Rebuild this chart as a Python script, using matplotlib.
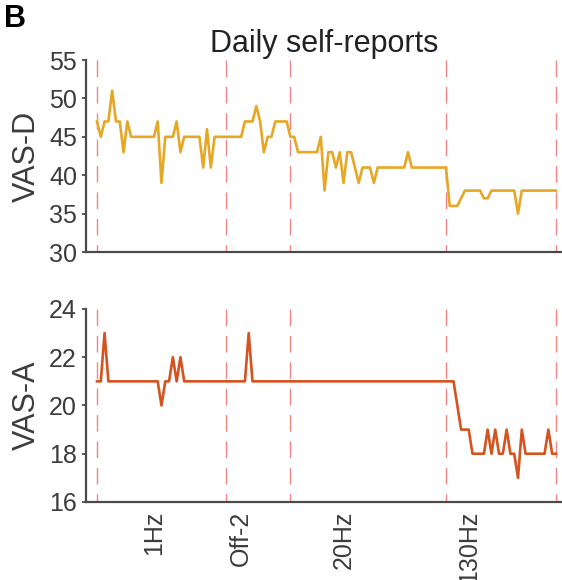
import matplotlib
matplotlib.use("Agg")
import matplotlib.pyplot as plt

plt.rcParams['font.family'] = ['Liberation Sans', 'DejaVu Sans']

# one value per day (day 0 .. 121)
vas_d = [47, 45, 47, 47, 51, 47, 47, 43, 47, 45,
         45, 45, 45, 45, 45, 45, 47, 39, 45, 45,
         45, 47, 43, 45, 45, 45, 45, 45, 41, 46,
         41, 45, 45, 45, 45, 45, 45, 45, 45, 47,
         47, 47, 49, 47, 43, 45, 45, 47, 47, 47,
         47, 45, 45, 43, 43, 43, 43, 43, 43, 45,
         38, 43, 43, 41, 43, 39, 43, 43, 41, 39,
         41, 41, 41, 39, 41, 41, 41, 41, 41, 41,
         41, 41, 43, 41, 41, 41, 41, 41, 41, 41,
         41, 41, 41, 36, 36, 36, 37, 38, 38, 38,
         38, 38, 37, 37, 38, 38, 38, 38, 38, 38,
         38, 35, 38, 38, 38, 38, 38, 38, 38, 38,
         38, 38]

vas_a = [21, 21, 23, 21, 21, 21, 21, 21, 21, 21,
         21, 21, 21, 21, 21, 21, 21, 20, 21, 21,
         22, 21, 22, 21, 21, 21, 21, 21, 21, 21,
         21, 21, 21, 21, 21, 21, 21, 21, 21, 21,
         23, 21, 21, 21, 21, 21, 21, 21, 21, 21,
         21, 21, 21, 21, 21, 21, 21, 21, 21, 21,
         21, 21, 21, 21, 21, 21, 21, 21, 21, 21,
         21, 21, 21, 21, 21, 21, 21, 21, 21, 21,
         21, 21, 21, 21, 21, 21, 21, 21, 21, 21,
         21, 21, 21, 21, 21, 20, 19, 19, 19, 18,
         18, 18, 18, 19, 18, 19, 18, 18, 19, 18,
         18, 17, 19, 18, 18, 18, 18, 18, 18, 19,
         18, 18]

days = list(range(len(vas_d)))

# condition boundaries (day index) and label positions
boundaries = [0, 34, 51, 92, 121]
cond_pos = [15, 38, 65, 98]
cond_labels = ['1Hz', 'Off-2', '20Hz', '130Hz']

fig = plt.figure(figsize=(5.62, 5.80), dpi=100)
ax1 = fig.add_axes([0.153, 0.5655, 0.847, 0.331])
ax2 = fig.add_axes([0.153, 0.1345, 0.847, 0.3328])

gray = '#3c3c3c'
for ax in (ax1, ax2):
    for b in boundaries:
        ax.axvline(b, ymin=1, ymax=0, color='#ee6868', lw=1.0,
                   dashes=(12, 7), alpha=0.8, zorder=1)
    ax.spines['top'].set_visible(False)
    ax.spines['right'].set_visible(False)
    ax.spines['left'].set_color('#4a4a4a')
    ax.spines['bottom'].set_color('#4a4a4a')
    ax.spines['left'].set_linewidth(1.6)
    ax.spines['bottom'].set_linewidth(1.6)
    ax.tick_params(axis='y', labelsize=18, colors=gray, length=3, width=1.2)
    ax.set_xlim(-2.9, 122.6)

ax1.plot(days, vas_d, color='#e6a725', lw=1.9, zorder=3)
ax1.set_ylim(30, 55)
ax1.set_yticks([30, 35, 40, 45, 50, 55])
ax1.set_xticks([])
ax1.set_ylabel('VAS-D', fontsize=22, color=gray, labelpad=5)
ax1.set_title('Daily self-reports', fontsize=22, color='#222222', pad=6)

ax2.plot(days, vas_a, color='#d4531f', lw=1.9, zorder=3)
ax2.set_ylim(16, 24)
ax2.set_yticks([16, 18, 20, 22, 24])
ax2.set_xticks(cond_pos)
ax2.set_xticklabels(cond_labels, rotation=90, fontsize=18, color=gray)
ax2.tick_params(axis='x', length=0, pad=6)
ax2.set_ylabel('VAS-A', fontsize=22, color=gray, labelpad=5)

fig.text(0.008, 0.993, 'B', fontsize=22, fontweight='bold', va='top', ha='left')

fig.savefig('out.png', dpi=100)
